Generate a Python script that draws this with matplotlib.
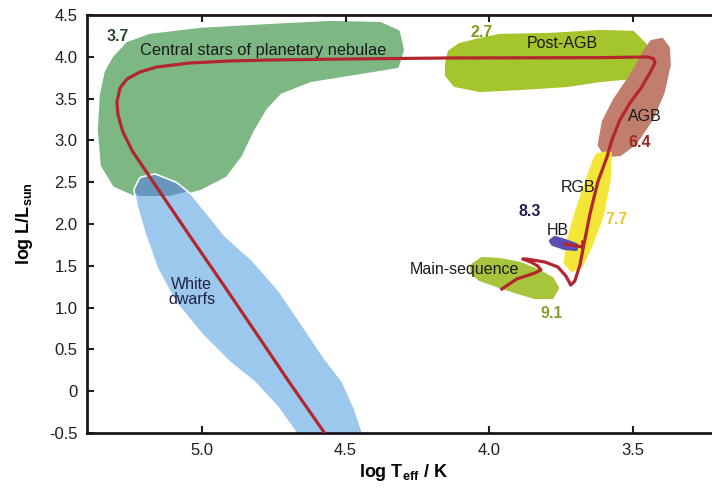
import numpy as np
import matplotlib
matplotlib.use('Agg')
import matplotlib.pyplot as plt

plt.rcParams['font.family'] = ['Liberation Sans', 'DejaVu Sans']
plt.rcParams['mathtext.fontset'] = 'custom'
plt.rcParams['mathtext.rm'] = 'Liberation Sans'
plt.rcParams['mathtext.bf'] = 'Liberation Sans:bold'

# Umrisse der Bereiche (log Teff, log L)
pn_T = [5.303, 5.258, 5.181, 5.007, 4.763, 4.554, 4.380, 4.318, 4.304, 4.321, 4.450, 4.624,
        4.729, 4.781, 4.826, 4.868, 4.920, 5.007, 5.111, 5.216, 5.303, 5.345, 5.355, 5.348, 5.331]
pn_L = [3.986, 4.153, 4.249, 4.321, 4.368, 4.404, 4.392, 4.297, 4.081, 3.890, 3.818, 3.722,
        3.579, 3.388, 3.124, 2.825, 2.586, 2.431, 2.335, 2.335, 2.467, 2.706, 3.124, 3.543, 3.818]

wd_T = [5.226, 5.209, 5.164, 5.094, 5.042, 4.927, 4.833, 4.739, 4.659, 4.582, 4.520, 4.478,
        4.443, 4.641, 4.729, 4.809, 4.896, 4.990, 5.084, 5.146, 5.188, 5.216]
wd_L = [2.407, 2.526, 2.562, 2.467, 2.323, 1.833, 1.545, 1.175, 0.768, 0.373, 0.098, -0.225,
        -0.584, -0.584, -0.165, 0.134, 0.373, 0.696, 1.091, 1.486, 1.892, 2.227]

pagb_T = [4.147, 4.137, 4.102, 4.032, 3.963, 3.789, 3.615, 3.500, 3.458, 3.469, 3.500, 3.615,
          3.730, 3.893, 4.032, 4.119, 4.147]
pagb_L = [3.902, 4.057, 4.141, 4.201, 4.249, 4.261, 4.297, 4.285, 4.141, 3.902, 3.758, 3.722,
          3.663, 3.627, 3.603, 3.663, 3.782]

agb_T = [3.434, 3.399, 3.378, 3.375, 3.396, 3.434, 3.493, 3.545, 3.594, 3.615, 3.601, 3.562,
         3.503, 3.458]
agb_L = [4.177, 4.201, 4.105, 3.902, 3.579, 3.268, 2.969, 2.837, 2.825, 2.945, 3.220, 3.483,
         3.782, 4.057]

rgb_T = [3.622, 3.580, 3.584, 3.608, 3.646, 3.680, 3.712, 3.733, 3.726, 3.698, 3.663, 3.632]
rgb_L = [2.825, 2.849, 2.526, 2.108, 1.749, 1.510, 1.450, 1.534, 1.749, 2.108, 2.467, 2.766]

hb_T = [3.785, 3.771, 3.737, 3.698, 3.698, 3.737, 3.778]
hb_L = [1.797, 1.833, 1.797, 1.749, 1.701, 1.713, 1.761]

ms_T = [4.060, 4.025, 3.963, 3.893, 3.831, 3.782, 3.764, 3.782, 3.841, 3.900, 3.963, 4.032, 4.057]
ms_L = [1.498, 1.581, 1.569, 1.522, 1.438, 1.342, 1.234, 1.127, 1.127, 1.187, 1.258, 1.342, 1.414]

# Entwicklungsweg
track_T = [3.956, 3.904, 3.841, 3.820, 3.831, 3.855, 3.883, 3.869, 3.806, 3.761, 3.733, 3.716,
           3.702, 3.684, 3.674, 3.650, 3.622, 3.590, 3.573, 3.545, 3.510, 3.469, 3.441, 3.423,
           3.427, 3.447, 3.615, 4.137, 4.485, 4.763, 4.903, 5.042, 5.157, 5.216, 5.261, 5.285,
           5.296, 5.292, 5.275, 5.240, 5.146, 5.042, 4.927, 4.809, 4.694, 4.568]
track_L = [1.222, 1.342, 1.414, 1.450, 1.498, 1.545, 1.581, 1.581, 1.545, 1.486, 1.378, 1.270,
           1.318, 1.510, 1.689, 2.108, 2.502, 2.801, 3.005, 3.244, 3.447, 3.639, 3.806, 3.926,
           3.974, 3.998, 3.990, 3.986, 3.974, 3.962, 3.950, 3.926, 3.878, 3.818, 3.734, 3.627,
           3.459, 3.304, 3.100, 2.861, 2.383, 1.856, 1.282, 0.684, 0.098, -0.524]

hb_link_T = [3.737, 3.674]
hb_link_L = [1.761, 1.725]
hb_tick_T = [3.677, 3.677]
hb_tick_L = [1.797, 1.701]

# Beschriftungen: (Text, T, L, Farbe, fett)
labels = [
    ('3.7', 5.292, 4.237, '#2a4a30', True),
    ('2.7', 4.025, 4.285, '#7f9a1f', True),
    ('Post-AGB', 3.747, 4.165, '#1a1a1a', False),
    ('AGB', 3.458, 3.280, '#1a1a1a', False),
    ('6.4', 3.475, 2.969, '#982a28', True),
    ('RGB', 3.691, 2.431, '#1a1a1a', False),
    ('8.3', 3.858, 2.144, '#1f1f55', True),
    ('HB', 3.761, 1.928, '#1a1a1a', False),
    ('7.7', 3.556, 2.048, '#e6c830', True),
    ('9.1', 3.782, 0.935, '#8aa030', True),
    ('White\ndwarfs', 5.035, 1.187, '#202040', False),
]

xticks = [5.0, 4.5, 4.0, 3.5]
xticklabels = ['5.0', '4.5', '4.0', '3.5']
yticks = [4.5, 4.0, 3.5, 3.0, 2.5, 2.0, 1.5, 1.0, 0.5, 0, -0.5]
yticklabels = ['4.5', '4.0', '3.5', '3.0', '2.5', '2.0', '1.5', '1.0', '0.5', '0', '-0.5']

fig = plt.figure(figsize=(7.12, 4.88), dpi=100)
ax = fig.add_axes([87 / 712, 55 / 488, 632 / 712, 418 / 488])
ax.set_xlim(5.4, 3.2)
ax.set_ylim(-0.5, 4.5)


def blob(T, L, c, z=1, lw=3):
    # gefuellte Flaeche mit runden Ecken
    return ax.fill(T, L, facecolor=c, edgecolor=c, lw=lw, joinstyle='round', zorder=z)[0]


pn = blob(pn_T, pn_L, '#7db784')
# weisser Rand um die Weissen Zwerge
ax.fill(wd_T, wd_L, fill=False, edgecolor='white', lw=5.5, joinstyle='round', zorder=1.5)
blob(wd_T, wd_L, '#9dc8ee', 2)
overlap = blob(wd_T, wd_L, '#6797bd', 3)
overlap.set_clip_path(pn)
blob(pagb_T, pagb_L, '#a4c52c')
blob(agb_T, agb_L, '#c17e6c')
blob(rgb_T, rgb_L, '#f3e636')
blob(ms_T, ms_L, '#a6c43c')
blob(hb_T, hb_L, '#5a50b2', 2)

ax.plot(track_T, track_L, color='#b4262e', lw=2.3, zorder=4, solid_joinstyle='round')
ax.plot(hb_link_T, hb_link_L, color='#b4262e', lw=2.3, zorder=4)
ax.plot(hb_tick_T, hb_tick_L, color='#b4262e', lw=1.8, zorder=4)

ax.text(5.216, 4.081, 'Central stars of planetary nebulae', fontsize=11.8,
        color='#1a1a1a', ha='left', va='center', zorder=5)
ax.text(4.276, 1.450, 'Main-sequence', fontsize=11.5, color='#1a1a1a',
        ha='left', va='center', zorder=5)
for txt, t, l, c, b in labels:
    ax.text(t, l, txt, fontsize=11.5, color=c, ha='center', va='center',
            fontweight='bold' if b else 'normal', linespacing=1.05, zorder=5)

ax.set_xticks(xticks)
ax.set_xticklabels(xticklabels)
ax.set_yticks(yticks)
ax.set_yticklabels(yticklabels)
ax.tick_params(direction='in', length=5, width=1.5, colors='#231a24', labelsize=12,
               top=True, right=True, pad=7)
for s in ax.spines.values():
    s.set_linewidth(2)
    s.set_color('#1e141e')

ax.set_xlabel(r'log T$_\mathbf{eff}$ / K', fontsize=13, fontweight='bold', labelpad=3)
ax.set_ylabel(r'log L/L$_\mathbf{sun}$', fontsize=13, fontweight='bold', labelpad=10)

fig.savefig('out.png', dpi=100)
